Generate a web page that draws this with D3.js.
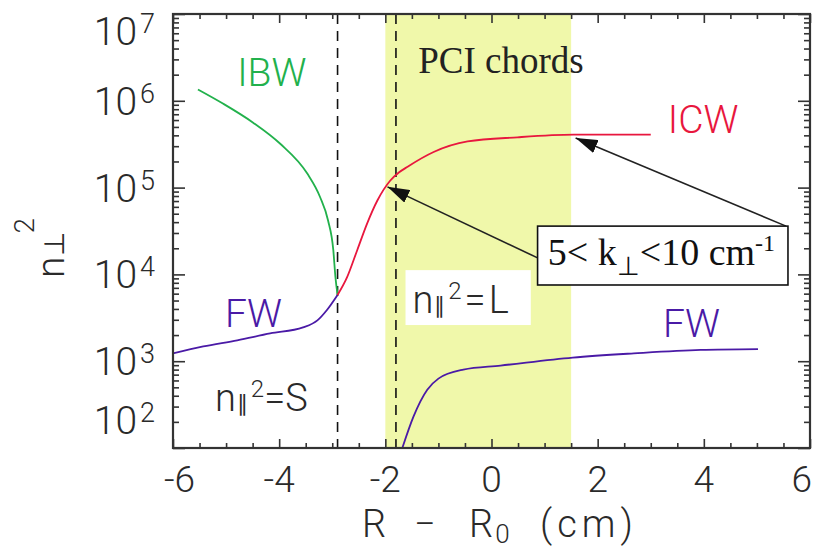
<!DOCTYPE html>
<html><head><meta charset="utf-8">
<script src="https://cdn.jsdelivr.net/npm/d3@7"></script>
<style>
body{margin:0;background:#fff;}
svg{display:block;}
</style></head>
<body><svg id="chart" width="817" height="556"></svg>
<script>
// ---- data ----
const ibwR = [-5.53, -5.06, -4.49, -3.98, -3.47, -3.23, -3.08, -2.98, -2.94, -2.9];
const ibwN = [1.35e6, 9.3e5, 5.6e5, 3.2e5, 1.45e5, 7.8e4, 4.2e4, 1.9e4, 9.3e3, 5.8e3];
const fwLeftR = [-6.0, -5.43, -4.79, -4.17, -3.55, -3.28, -3.1, -2.9];
const fwLeftN = [1230, 1480, 1740, 2090, 2450, 2950, 3890, 5800];
const icwR = [-2.9, -2.72, -2.53, -2.34, -2.15, -1.91, -1.74, -1.58, -1.09, -0.45, 0.49, 1.55, 3.0];
const icwN = [5800, 9300, 1.9e4, 3.9e4, 7.1e4, 1.2e5, 1.5e5, 1.74e5, 2.57e5, 3.4e5, 3.8e5, 4.07e5, 4.07e5];
const fwRightR = [-1.68, -1.47, -1.21, -1.0, -0.53, 0.17, 1.53, 2.68, 3.94, 5.02];
const fwRightN = [100, 230, 470, 630, 800, 890, 1100, 1230, 1350, 1380];
const xTickLabels = ["-6", "-4", "-2", "0", "2", "4", "6"];
const xTickValues = [-6, -4, -2, 0, 2, 4, 6];
const yTickExponents = [2, 3, 4, 5, 6, 7];
const shadeRange = [-2, 1.5];
const dashedR = [-2.9, -1.8];

// ---- layout ----
const svg = d3.select("#chart");
const L = 173, R = 810, T = 14, B = 448;
const x = d3.scaleLinear().domain([-6, 6]).range([L, R]);
const y = d3.scaleLog().domain([100, 1e7]).range([B, T]);
const SANS = "Roboto, 'Liberation Sans', Arial, sans-serif";
const SW = 300;
const SERIF = "'Liberation Serif', 'Times New Roman', serif";
const TXT = "#2a2a2a";

// shaded PCI region
svg.append("rect").attr("x", x(shadeRange[0])).attr("y", T)
  .attr("width", x(shadeRange[1]) - x(shadeRange[0])).attr("height", B - T)
  .attr("fill", "#f0f8aa");

// dashed lines
dashedR.forEach(r => {
  svg.append("line").attr("x1", x(r)).attr("x2", x(r)).attr("y1", T).attr("y2", B)
    .attr("stroke", "#111").attr("stroke-width", 1.6).attr("stroke-dasharray", "10,7");
});

// curves
const line = d3.line().x(d => x(d[0])).y(d => y(d[1])).curve(d3.curveMonotoneX);
function series(rs, ns, color) {
  svg.append("path").datum(rs.map((r, i) => [r, ns[i]]))
    .attr("d", line).attr("fill", "none").attr("stroke", color).attr("stroke-width", 1.8);
}
series(ibwR, ibwN, "#22b14c");
series(fwLeftR, fwLeftN, "#4a1aa6");
series(icwR, icwN, "#e8173e");
series(fwRightR, fwRightN, "#4a1aa6");

// series labels
function label(r, n, t, color, font, size, weight) {
  return svg.append("text").attr("x", x(r)).attr("y", y(n)).text(t)
    .attr("fill", color).attr("font-family", font || SANS).attr("font-size", size || 39)
    .attr("font-weight", weight || SW);
}
label(-4.79, 1.5e6, "IBW", "#22b14c");
label(3.32, 4.3e5, "ICW", "#e8173e");
label(-5.02, 2450, "FW", "#4a1aa6");
label(3.23, 1900, "FW", "#4a1aa6");
label(-1.38, 2.1e6, "PCI chords", "#222", SERIF, 37, 400);

// n||^2 = S
{
  const t = svg.append("text").attr("x", x(-5.21)).attr("y", y(267))
    .attr("fill", TXT).attr("font-family", SANS).attr("font-size", 38).attr("font-weight", SW);
  t.append("tspan").text("n");
  t.append("tspan").text("\u2225").attr("font-size", 22).attr("dx", 1);
  t.append("tspan").text("2").attr("font-size", 24).attr("dy", -14).attr("dx", 3);
  t.append("tspan").text("=S").attr("dy", 14);
}
// n||^2 = L with white box
svg.append("rect").attr("x", x(-1.62)).attr("y", y(1.12e4))
  .attr("width", x(0.74) - x(-1.62)).attr("height", y(2610) - y(1.12e4)).attr("fill", "#fff");
{
  const t = svg.append("text").attr("x", x(-1.49)).attr("y", y(3590))
    .attr("fill", TXT).attr("font-family", SANS).attr("font-size", 38).attr("font-weight", SW);
  t.append("tspan").text("n");
  t.append("tspan").text("\u2225").attr("font-size", 22).attr("dx", 1);
  t.append("tspan").text("2").attr("font-size", 24).attr("dy", -14).attr("dx", 3);
  t.append("tspan").text("=").attr("dy", 14).attr("dx", 3);
  t.append("tspan").text("L").attr("dx", 3);
}

// arrows
const defs = svg.append("defs");
defs.append("marker").attr("id", "ah").attr("viewBox", "0 0 22 14")
  .attr("refX", 22).attr("refY", 7).attr("markerWidth", 22).attr("markerHeight", 14)
  .attr("markerUnits", "userSpaceOnUse").attr("orient", "auto")
  .append("path").attr("d", "M0,0 L22,7 L0,14 Z").attr("fill", "#111");
const arrows = [
  [[0.868, 1.55e4], [-1.96, 1.02e5]],
  [[5.55, 3.6e4], [1.585, 3.73e5]]
];
arrows.forEach(a => {
  svg.append("line").attr("x1", x(a[0][0])).attr("y1", y(a[0][1]))
    .attr("x2", x(a[1][0])).attr("y2", y(a[1][1]))
    .attr("stroke", "#222").attr("stroke-width", 1.6).attr("marker-end", "url(#ah)");
});
// k-perp box
svg.append("rect").attr("x", x(0.868)).attr("y", y(3.6e4))
  .attr("width", x(5.585) - x(0.868)).attr("height", y(7550) - y(3.6e4))
  .attr("fill", "#fff").attr("stroke", "#111").attr("stroke-width", 1.6);
{
  const t = svg.append("text").attr("x", x(1.06)).attr("y", y(1.28e4))
    .attr("fill", "#111").attr("font-family", SERIF).attr("font-size", 38);
  t.append("tspan").text("5< k");
  t.append("tspan").text("\u22a5").attr("font-size", 26).attr("dy", 10);
  t.append("tspan").text("<10 cm").attr("dy", -10);
  t.append("tspan").text("-1").attr("font-size", 24).attr("dy", -14);
}

// axes frame and ticks
const frame = svg.append("g");
const xMajor = d3.range(-6, 6.01, 2), xMinor = d3.range(-6, 6.01, 0.5).filter(v => Math.abs(v % 2) > 1e-6);
const yMajor = yTickExponents.map(e => Math.pow(10, e));
const yMinor = [];
for (let e = 2; e < 7; e++) for (let m = 2; m <= 9; m++) yMinor.push(m * Math.pow(10, e));
function axisG(axis, tx, ty) {
  const g = frame.append("g").attr("transform", `translate(${tx},${ty})`).call(axis);
  g.select(".domain").remove();
  g.selectAll("line").attr("stroke", "#333").attr("stroke-width", 1.6);
  g.selectAll("text").remove();
}
axisG(d3.axisBottom(x).tickValues(xMajor).tickSize(-9), 0, B);
axisG(d3.axisBottom(x).tickValues(xMinor).tickSize(-5), 0, B);
axisG(d3.axisTop(x).tickValues(xMajor).tickSize(-9), 0, T);
axisG(d3.axisTop(x).tickValues(xMinor).tickSize(-5), 0, T);
axisG(d3.axisLeft(y).tickValues(yMajor).tickSize(-12), L, 0);
axisG(d3.axisLeft(y).tickValues(yMinor).tickSize(-6), L, 0);
axisG(d3.axisRight(y).tickValues(yMajor).tickSize(-12), R, 0);
axisG(d3.axisRight(y).tickValues(yMinor).tickSize(-6), R, 0);
frame.append("rect").attr("x", L).attr("y", T).attr("width", R - L).attr("height", B - T)
  .attr("fill", "none").attr("stroke", "#333").attr("stroke-width", 2.2);

// x tick labels
xTickValues.forEach((v, i) => {
  let anchor = "middle", px = x(v);
  if (i === 0) { anchor = "start"; px = x(v) - 9; }
  if (i === xTickValues.length - 1) { anchor = "end"; px = x(v) + 2; }
  svg.append("text").attr("x", px).attr("y", 492).attr("text-anchor", anchor)
    .attr("fill", TXT).attr("font-family", SANS).attr("font-weight", SW)
    .attr("font-size", 37).text(xTickLabels[i]);
});
// y tick labels 10^k
yTickExponents.forEach((e, i) => {
  let base = y(Math.pow(10, e)) + 14;
  if (i === 0) base = B - 14;
  if (i === yTickExponents.length - 1) base = T + 31;
  const t = svg.append("text").attr("x", 155).attr("y", base).attr("text-anchor", "end")
    .attr("fill", TXT).attr("font-family", SANS).attr("font-weight", SW).attr("font-size", 39);
  t.append("tspan").text("10");
  t.append("tspan").text(String(e)).attr("font-size", 27).attr("dy", -12).attr("dx", 3);
});

// axis titles
{
  const t = svg.append("text").attr("y", 537)
    .attr("fill", TXT).attr("font-family", SANS).attr("font-weight", SW).attr("font-size", 38);
  t.append("tspan").attr("x", 362).text("R");
  t.append("tspan").attr("x", 414).text("\u2212");
  t.append("tspan").attr("x", 469).text("R");
  t.append("tspan").text("0").attr("font-size", 26).attr("dy", 6).attr("dx", 2);
  t.append("tspan").attr("x", 540).attr("dy", -6).attr("letter-spacing", 5).text("(cm)");
}
{
  const t = svg.append("text").attr("transform", "translate(64,278) rotate(-90)")
    .attr("fill", TXT).attr("font-family", SANS).attr("font-weight", SW).attr("font-size", 39);
  t.append("tspan").text("n");
  t.append("tspan").text("\u22a5").attr("font-size", 28).attr("dx", 1);
  t.append("tspan").text("2").attr("font-size", 28).attr("dy", -30).attr("dx", -2);
}
</script></body></html>
